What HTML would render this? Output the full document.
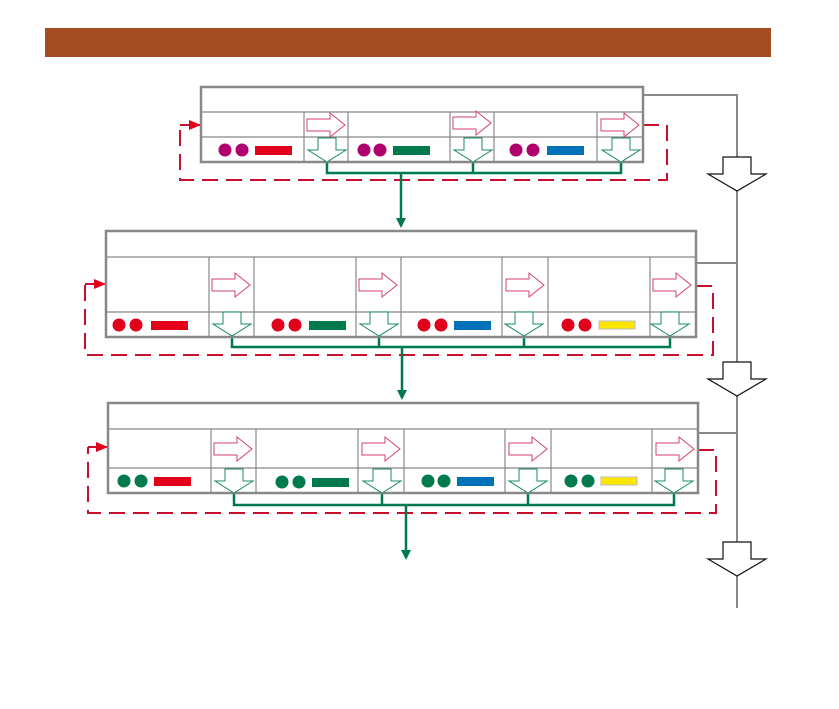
<!DOCTYPE html>
<html><head><meta charset="utf-8"><style>body{margin:0;background:#fff}svg{display:block}</style></head><body>
<svg width="839" height="709" viewBox="0 0 839 709" xmlns="http://www.w3.org/2000/svg">
<defs>
<polygon id="ra" points="-19,-6 4,-6 4,-12 19,0 4,12 4,6 -19,6" fill="#fff" stroke="#d4416a" stroke-width="1"/>
<polygon id="da" points="-9,-12 9,-12 9,0 19,0 0,12 -19,0 -9,0" fill="#fff" stroke="#1a8a5c" stroke-width="1"/>
<polygon id="ba" points="-14,-17 14,-17 14,0 29,0 0,17 -29,0 -14,0" fill="#fff" stroke="#111" stroke-width="1.2"/>
<marker id="gm" markerWidth="10" markerHeight="10" refX="8" refY="5" orient="auto" markerUnits="userSpaceOnUse"><path d="M0,0 L10,5 L0,10 Z" fill="#007a4c"/></marker>
<marker id="rm" markerWidth="12" markerHeight="10" refX="11" refY="5" orient="auto" markerUnits="userSpaceOnUse"><path d="M0,0 L12,5 L0,10 Z" fill="#e2001a"/></marker>
</defs>
<rect x="45" y="28" width="726" height="29" fill="#a44d22"/>
<!-- gray right bus -->
<g stroke="#888" stroke-width="2" fill="none">
<path d="M643,95 H737 V608"/>
<path d="M696,263 H737"/><path d="M698,433 H737"/>
</g>
<use href="#ba" x="737" y="174"/>
<use href="#ba" x="737" y="379"/>
<use href="#ba" x="737" y="559"/>
<!-- red dashed loops -->
<g stroke="#c8102e" stroke-width="2" fill="none" stroke-dasharray="16,8">
<path d="M643,125 H667 V180 H180 V125" />
<path d="M696,286 H713 V355 H85 V284"/>
<path d="M698,450 H716 V513 H88 V447"/>
</g>
<g stroke="#c8102e" stroke-width="2" fill="none">
<path d="M180,125 H200" marker-end="url(#rm)"/>
<path d="M85,284 H105" marker-end="url(#rm)"/>
<path d="M88,447 H107" marker-end="url(#rm)"/>
</g>
<!-- green buses -->
<g stroke="#007a4c" stroke-width="2.5" fill="none">
<path d="M327,161 V173 H621 V161 M473,161 V173"/>
<path d="M401,173 V226" marker-end="url(#gm)"/>
<path d="M232,336 V347 H670 V336 M379,336 V347 M524,336 V347"/>
<path d="M402,347 V398" marker-end="url(#gm)"/>
<path d="M234,492 V505 H674 V492 M382,492 V505 M528,492 V505"/>
<path d="M406,505 V558" marker-end="url(#gm)"/>
</g>
<!-- box1 -->
<g stroke="#888" fill="#fff">
<rect x="201" y="87" width="442" height="75" stroke-width="2.5"/>
<path d="M201,112 H643 M201,137 H643 M304,112 V162 M348,112 V162 M450,112 V162 M494,112 V162 M597,112 V162" stroke-width="1.2" fill="none"/>
</g>
<g>
<circle cx="225" cy="150" r="6.5" fill="#b0006e"/><circle cx="242" cy="150" r="6.5" fill="#b0006e"/><rect x="255" y="146" width="37" height="9" fill="#e2001a"/>
<circle cx="364" cy="150" r="6.5" fill="#b0006e"/><circle cx="380" cy="150" r="6.5" fill="#b0006e"/><rect x="393" y="146" width="37" height="9" fill="#007a4c"/>
<circle cx="516" cy="150" r="6.5" fill="#b0006e"/><circle cx="533" cy="150" r="6.5" fill="#b0006e"/><rect x="547" y="146" width="37" height="9" fill="#0070b8"/>
</g>
<use href="#ra" x="326" y="125"/><use href="#ra" x="472" y="123"/><use href="#ra" x="620" y="125"/>
<use href="#da" x="327" y="150"/><use href="#da" x="473" y="150"/><use href="#da" x="621" y="150"/>
<!-- box2 -->
<g stroke="#888" fill="#fff">
<rect x="106" y="231" width="590" height="106" stroke-width="2.5"/>
<path d="M106,257 H696 M106,312 H696 M209,257 V337 M254,257 V337 M356,257 V337 M401,257 V337 M502,257 V337 M548,257 V337 M650,257 V337" stroke-width="1.2" fill="none"/>
</g>
<g>
<circle cx="119" cy="325" r="6.5" fill="#e2001a"/><circle cx="136" cy="325" r="6.5" fill="#e2001a"/><rect x="151" y="321" width="37" height="9" fill="#e2001a"/>
<circle cx="278" cy="325" r="6.5" fill="#e2001a"/><circle cx="295" cy="325" r="6.5" fill="#e2001a"/><rect x="309" y="321" width="37" height="9" fill="#007a4c"/>
<circle cx="424" cy="325" r="6.5" fill="#e2001a"/><circle cx="441" cy="325" r="6.5" fill="#e2001a"/><rect x="454" y="321" width="37" height="9" fill="#0070b8"/>
<circle cx="568" cy="325" r="6.5" fill="#e2001a"/><circle cx="585" cy="325" r="6.5" fill="#e2001a"/><rect x="599" y="321" width="36" height="8" fill="#ffe600" stroke="#bbb"/>
</g>
<use href="#ra" x="231" y="285"/><use href="#ra" x="378" y="285"/><use href="#ra" x="525" y="285"/><use href="#ra" x="672" y="285"/>
<use href="#da" x="232" y="324"/><use href="#da" x="379" y="324"/><use href="#da" x="524" y="324"/><use href="#da" x="670" y="324"/>
<!-- box3 -->
<g stroke="#888" fill="#fff">
<rect x="108" y="403" width="590" height="90" stroke-width="2.5"/>
<path d="M108,429 H698 M108,468 H698 M211,429 V493 M256,429 V493 M358,429 V493 M404,429 V493 M505,429 V493 M551,429 V493 M652,429 V493" stroke-width="1.2" fill="none"/>
</g>
<g>
<circle cx="124" cy="481" r="6.5" fill="#007a4c"/><circle cx="141" cy="481" r="6.5" fill="#007a4c"/><rect x="154" y="477" width="37" height="9" fill="#e2001a"/>
<circle cx="282" cy="482" r="6.5" fill="#007a4c"/><circle cx="299" cy="482" r="6.5" fill="#007a4c"/><rect x="312" y="478" width="37" height="9" fill="#007a4c"/>
<circle cx="428" cy="481" r="6.5" fill="#007a4c"/><circle cx="444" cy="481" r="6.5" fill="#007a4c"/><rect x="457" y="477" width="37" height="9" fill="#0070b8"/>
<circle cx="571" cy="481" r="6.5" fill="#007a4c"/><circle cx="588" cy="481" r="6.5" fill="#007a4c"/><rect x="601" y="477" width="36" height="8" fill="#ffe600" stroke="#bbb"/>
</g>
<use href="#ra" x="233" y="449"/><use href="#ra" x="381" y="449"/><use href="#ra" x="528" y="449"/><use href="#ra" x="675" y="449"/>
<use href="#da" x="234" y="481"/><use href="#da" x="382" y="481"/><use href="#da" x="528" y="481"/><use href="#da" x="674" y="481"/>
</svg>
</body></html>
